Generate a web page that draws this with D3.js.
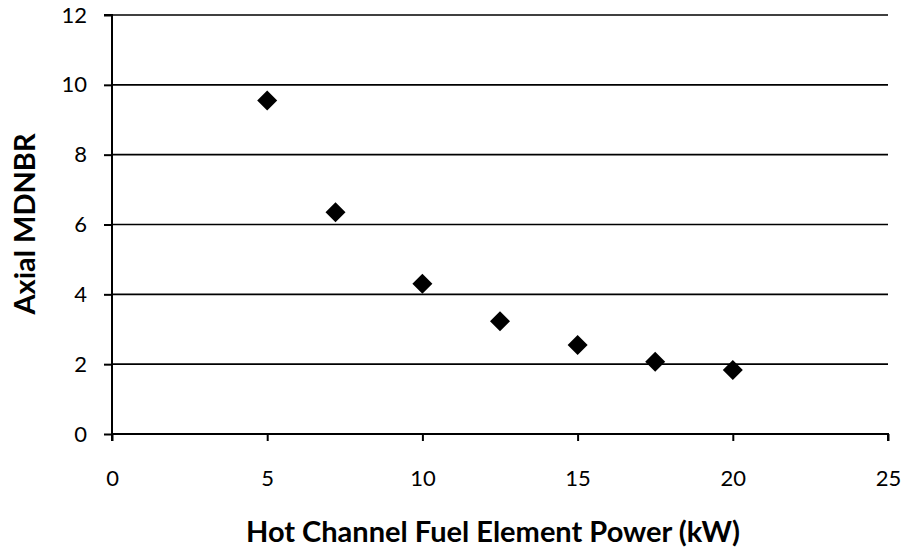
<!DOCTYPE html>
<html>
<head>
<meta charset="utf-8">
<script src="https://cdn.jsdelivr.net/npm/d3@7"></script>
<style>
  body { margin: 0; background: #fff; }
  svg { display: block; }
</style>
</head>
<body>
<script>
// data
var power = [5, 7.2, 10, 12.5, 15, 17.5, 20];          // kW
var mdnbr = [9.55, 6.35, 4.3, 3.23, 2.55, 2.07, 1.83];
var xTicks = [0, 5, 10, 15, 20, 25];
var yTicks = [0, 2, 4, 6, 8, 10, 12];

var W = 903, H = 551;
var margin = {top: 15, right: 15, bottom: 117, left: 112};
var width = W - margin.left - margin.right,
    height = H - margin.top - margin.bottom;

var x = d3.scaleLinear().domain([0, 25]).range([0, width]);
var y = d3.scaleLinear().domain([0, 12]).range([height, 0]);

var svg = d3.select("body").append("svg")
  .attr("width", W)
  .attr("height", H);

var g = svg.append("g")
  .attr("transform", "translate(" + margin.left + "," + margin.top + ")");

//horizontal grid lines
g.append("g")
  .selectAll("line")
  .data(yTicks.slice(1))
  .enter().append("line")
  .attr("x1", 0)
  .attr("x2", width)
  .attr("y1", function(d) { return y(d); })
  .attr("y2", function(d) { return y(d); })
  .attr("stroke", "#000")
  .attr("stroke-width", 1.6);

//axes
var yAxis = g.append("g")
  .call(d3.axisLeft(y).tickValues(yTicks).tickSize(8).tickPadding(17));
var xAxis = g.append("g")
  .attr("transform", "translate(0," + height + ")")
  .call(d3.axisBottom(x).tickValues(xTicks).tickSize(7).tickPadding(29));

[xAxis, yAxis].forEach(function(a) {
  a.select(".domain").attr("stroke", "#000").attr("stroke-width", 2);
  a.selectAll(".tick line").attr("stroke", "#000").attr("stroke-width", 2);
  a.selectAll(".tick text")
    .attr("fill", "#000")
    .style("font-family", "Lato, 'Open Sans', sans-serif")
    .style("font-size", "22px");
});
xAxis.select(".domain").attr("d", "M0,7V0H" + width + "V7");
yAxis.select(".domain").attr("d", "M-8,0H0V" + height);

//diamond markers
g.append("g")
  .selectAll("path")
  .data(power.map(function(p, i) { return [p, mdnbr[i]]; }))
  .enter().append("path")
  .attr("d", d3.symbol().type(d3.symbolSquare).size(200))
  .attr("transform", function(d) {
    return "translate(" + x(d[0]) + "," + y(d[1]) + ") rotate(45)";
  })
  .attr("fill", "#000");

//axis titles
svg.append("text")
  .attr("x", 493)
  .attr("y", 542)
  .attr("text-anchor", "middle")
  .style("font-family", "Lato, 'Open Sans', sans-serif")
  .style("font-weight", "bold")
  .style("font-size", "29px")
  .text("Hot Channel Fuel Element Power (kW)");

svg.append("text")
  .attr("transform", "translate(35,224) rotate(-90)")
  .attr("text-anchor", "middle")
  .style("font-family", "Lato, 'Open Sans', sans-serif")
  .style("font-weight", "bold")
  .style("font-size", "29px")
  .text("Axial MDNBR");
</script>
</body>
</html>
